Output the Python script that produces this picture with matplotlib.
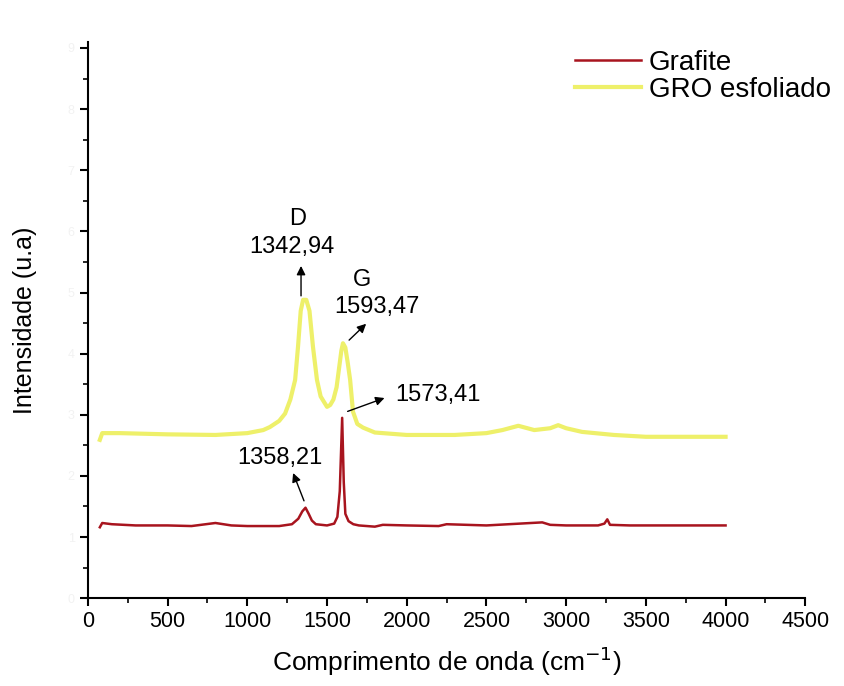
import matplotlib.pyplot as plt
from matplotlib.ticker import MultipleLocator

plt.rcParams['font.family'] = ['Liberation Sans', 'DejaVu Sans']

# Grafite (red) spectrum
grafite_x = [75, 90, 150, 300, 500, 650, 800, 900, 1000, 1200, 1280, 1320, 1345, 1365,
             1385, 1405, 1430, 1500, 1545, 1565, 1580, 1595, 1605, 1615, 1635, 1665,
             1700, 1800, 1850, 2000, 2200, 2250, 2500, 2850, 2900, 3000, 3200, 3240,
             3258, 3275, 3400, 4000]
grafite_y = [1.16, 1.23, 1.21, 1.19, 1.19, 1.18, 1.23, 1.19, 1.18, 1.18, 1.21, 1.30, 1.42, 1.48,
             1.38, 1.27, 1.21, 1.19, 1.22, 1.33, 1.75, 2.95, 1.90, 1.38, 1.26, 1.21,
             1.19, 1.17, 1.20, 1.19, 1.18, 1.21, 1.19, 1.24, 1.20, 1.19, 1.19, 1.22,
             1.29, 1.20, 1.19, 1.19]

# GRO esfoliado (yellow) spectrum
gro_x = [75, 90, 200, 500, 800, 1000, 1100, 1142, 1200, 1237, 1270, 1300, 1318, 1335,
         1350, 1370, 1390, 1412, 1437, 1460, 1500, 1520, 1540, 1560, 1575, 1590, 1600,
         1615, 1630, 1645, 1663, 1690, 1726, 1800, 2000, 2300, 2500, 2600, 2700, 2800,
         2900, 2950, 3000, 3100, 3300, 3500, 4000]
gro_y = [2.59, 2.70, 2.70, 2.68, 2.67, 2.70, 2.75, 2.80, 2.90, 3.02, 3.25, 3.57, 4.11, 4.70,
         4.88, 4.88, 4.70, 4.11, 3.57, 3.30, 3.13, 3.16, 3.25, 3.45, 3.75, 4.05, 4.17,
         4.10, 3.85, 3.57, 3.05, 2.85, 2.79, 2.71, 2.67, 2.67, 2.70, 2.75, 2.82, 2.75,
         2.78, 2.83, 2.78, 2.72, 2.67, 2.64, 2.64]

fig = plt.figure(figsize=(8.45, 6.86), dpi=100)
ax = fig.add_axes([0.104, 0.128, 0.849, 0.811])

ax.plot(gro_x, gro_y, color="#eef06a", lw=3, label="GRO esfoliado", zorder=2)
ax.plot(grafite_x, grafite_y, color="#a8141e", lw=1.8, label="Grafite", zorder=3)

ax.set_xlim(0, 4500)
ax.set_ylim(0, 9.1)
ax.xaxis.set_major_locator(MultipleLocator(500))
ax.xaxis.set_minor_locator(MultipleLocator(250))
ax.yaxis.set_major_locator(MultipleLocator(1))
ax.yaxis.set_minor_locator(MultipleLocator(0.5))
ax.tick_params(which="major", direction="out", length=6, width=1.5, labelsize=15.5)
ax.tick_params(which="minor", direction="out", length=3.5, width=1.2)
ax.tick_params(axis="y", labelcolor="#f2f2f2", labelsize=9)
for s in ["top", "right"]:
    ax.spines[s].set_visible(False)
for s in ["left", "bottom"]:
    ax.spines[s].set_linewidth(1.5)

ax.set_xlabel("Comprimento de onda (cm$^{-1}$)", fontsize=19, labelpad=9)
ax.set_ylabel("Intensidade (u.a)", fontsize=18, labelpad=22)

# peak labels and arrows
arrow = dict(arrowstyle="-|>", color="black", lw=1, mutation_scale=13)
fs = 17
ax.annotate("", xy=(1337, 5.48), xytext=(1337, 4.90), arrowprops=arrow)
ax.text(1281, 5.74, "1342,94", fontsize=fs, ha="center", va="center")
ax.text(1318, 6.20, "D", fontsize=fs, ha="center", va="center")
ax.annotate("", xy=(1758, 4.52), xytext=(1626, 4.19), arrowprops=arrow)
ax.text(1814, 4.76, "1593,47", fontsize=fs, ha="center", va="center")
ax.text(1720, 5.20, "G", fontsize=fs, ha="center", va="center")
ax.annotate("", xy=(1877, 3.29), xytext=(1613, 3.04), arrowprops=arrow)
ax.text(2197, 3.32, "1573,41", fontsize=fs, ha="center", va="center")
ax.annotate("", xy=(1281, 2.09), xytext=(1362, 1.55), arrowprops=arrow)
ax.text(1205, 2.29, "1358,21", fontsize=fs, ha="center", va="center")

h, l = ax.get_legend_handles_labels()
ax.legend(h[::-1], l[::-1], loc="upper left", bbox_to_anchor=(0.664, 1.0055), frameon=False,
          fontsize=20, handlelength=2.35, handletextpad=0.3, labelspacing=0.03,
          borderaxespad=0)

fig.savefig("out.png", dpi=100)
